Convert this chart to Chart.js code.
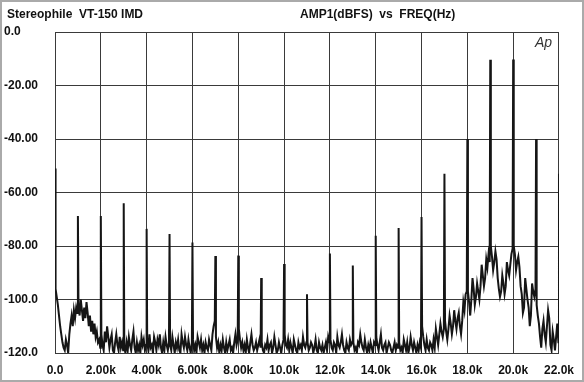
<!DOCTYPE html>
<html>
<head>
<meta charset="utf-8">
<script src="https://cdn.jsdelivr.net/npm/chart.js@4/dist/chart.umd.min.js"></script>
<style>
  html, body { margin: 0; padding: 0; background: #fff; }
  #wrap { width: 584px; height: 382px; }
</style>
</head>
<body>
<div id="wrap"><canvas id="imd" width="584" height="382"></canvas></div>
<script>
// intermod products at every 1 kHz (19+20 kHz twin-tone), dBFS
const toneFreqs = [0, 1000, 2000, 3000, 4000, 5000, 6000, 7000, 8000, 9000, 10000, 11000,
  12000, 13000, 14000, 15000, 16000, 17000, 18000, 19000, 20000, 21000, 22000];
const toneLevels = [-51, -68.8, -68.8, -64, -73.6, -75.5, -78.7, -83.7, -83.6, -92, -86.7, -98,
  -82.8, -87.3, -76.2, -73.3, -69.2, -53, -40, -10.4, -10.3, -40, -53];

// noise floor between the products, one reading per 50 Hz bin (25 Hz, 75 Hz ...)
const floorStartHz = 25;
const floorStepHz = 50;
const noiseFloor = [
  -96, -99, -102, -106, -110, -113, -116, -118, -119, -115, -117, -120, -113, -109, -106, -110, -104, -107, -103, -105,   // 0k
  -102, -106, -100, -104, -108, -103, -107, -101, -105, -110, -106, -112, -108, -113, -109, -114, -112, -116, -115, -118, // 1k
  -113, -117, -119, -112, -116, -110, -114, -118, -115, -113, -119, -120, -116, -113, -117, -119, -114, -118, -116, -119, // 2k
  -118, -120, -116, -119, -114, -117, -119, -115, -112, -118, -120, -116, -119, -117, -120, -114, -117, -115, -119, -117, // 3k
  -116, -119, -113, -118, -117, -120, -114, -116, -119, -115, -117, -113, -118, -120, -116, -119, -114, -117, -119, -116, // 4k
  -117, -119, -114, -117, -120, -116, -118, -115, -119, -120, -113, -116, -118, -114, -117, -119, -115, -118, -120, -116, // 5k
  -115, -119, -117, -120, -114, -116, -118, -115, -119, -117, -120, -116, -118, -119, -115, -117, -119, -113, -110, -108, // 6k
  -114, -118, -116, -120, -117, -119, -115, -118, -120, -116, -119, -117, -115, -119, -118, -120, -116, -113, -117, -115, // 7k
  -111, -115, -118, -116, -119, -117, -120, -115, -118, -120, -116, -113, -117, -119, -118, -116, -119, -117, -115, -118, // 8k
  -116, -119, -120, -117, -118, -115, -119, -117, -116, -120, -118, -114, -117, -120, -119, -116, -118, -120, -117, -115, // 9k
  -113, -117, -118, -115, -119, -116, -118, -120, -115, -117, -119, -120, -116, -118, -117, -119, -114, -117, -118, -116, // 10k
  -116, -119, -118, -116, -117, -120, -118, -115, -119, -120, -116, -118, -119, -117, -120, -118, -116, -119, -114, -116, // 11k
  -115, -118, -119, -116, -117, -120, -114, -117, -118, -116, -113, -117, -119, -120, -116, -118, -119, -115, -117, -116, // 12k
  -116, -119, -118, -120, -116, -117, -113, -116, -118, -119, -115, -118, -120, -117, -119, -116, -118, -120, -116, -117, // 13k
  -114, -117, -119, -116, -113, -118, -119, -117, -116, -120, -118, -116, -117, -119, -120, -118, -116, -119, -117, -118, // 14k
  -116, -119, -118, -120, -115, -117, -119, -116, -120, -118, -114, -117, -119, -116, -118, -120, -117, -119, -116, -118, // 15k
  -110, -114, -117, -119, -115, -118, -119, -116, -117, -119, -115, -118, -111, -114, -117, -113, -109, -112, -114, -111, // 16k
  -108, -112, -115, -111, -106, -109, -113, -110, -104, -108, -111, -107, -105, -110, -113, -108, -101, -104, -98, -97,   // 17k
  -97, -101, -106, -100, -92, -96, -102, -99, -94, -97, -100, -95, -87, -91, -95, -92, -85, -88, -83, -86,                // 18k
  -80, -84, -89, -86, -82, -85, -92, -96, -99, -97, -91, -94, -98, -95, -86, -89, -91, -87, -83, -81,                     // 19k
  -80, -83, -89, -86, -84, -88, -95, -98, -105, -103, -92, -96, -100, -103, -110, -106, -94, -97, -99, -96,               // 20k
  -102, -106, -109, -114, -118, -111, -108, -113, -116, -110, -104, -107, -117, -119, -112, -115, -119, -114, -109, -116  // 21k
];

const xTickLabels = ['0.0', '2.00k', '4.00k', '6.00k', '8.00k', '10.0k', '12.0k',
  '14.0k', '16.0k', '18.0k', '20.0k', '22.0k'];
const yTickLabels = ['-120.0', '-100.0', '-80.00', '-60.00', '-40.00', '-20.00', '0.0'];

const FONT = '"Liberation Sans", Arial, sans-serif';
const GRID = '#3a3a3a';

// merge products and floor bins into one trace, ordered by frequency
const points = [];
for (let i = 0; i < toneFreqs.length; i++) {
  points.push({ x: toneFreqs[i], y: toneLevels[i] });
}
for (let i = 0; i < noiseFloor.length; i++) {
  points.push({ x: floorStartHz + i * floorStepHz, y: noiseFloor[i] });
}
points.sort((a, b) => a.x - b.x);

const header = {
  id: 'header',
  beforeDraw(chart) {
    const ctx = chart.ctx;
    ctx.save();
    ctx.fillStyle = '#fff';
    ctx.fillRect(0, 0, chart.width, chart.height);
    ctx.strokeStyle = '#aaa';
    ctx.lineWidth = 3;
    ctx.strokeRect(0.5, 0.5, chart.width - 1, chart.height - 1);
    ctx.restore();
  },
  afterDraw(chart) {
    const ctx = chart.ctx;
    ctx.save();
    ctx.fillStyle = '#111';
    ctx.textBaseline = 'middle';
    ctx.font = 'bold 12px ' + FONT;
    ctx.fillText('Stereophile  VT-150 IMD', 7, 15);
    ctx.fillText('AMP1(dBFS)  vs  FREQ(Hz)', 300, 15);
    ctx.font = 'italic 14px ' + FONT;
    ctx.fillStyle = '#333';
    ctx.fillText('Ap', 535, 43);
    ctx.restore();
  }
};

new Chart(document.getElementById('imd'), {
  type: 'line',
  data: {
    datasets: [{
      label: 'AMP1',
      data: points,
      borderColor: '#151515',
      borderWidth: 2,
      pointRadius: 0,
      tension: 0,
      fill: false
    }]
  },
  options: {
    responsive: false,
    animation: false,
    layout: { padding: { left: 4, top: 32, right: 21, bottom: 0 } },
    plugins: {
      legend: { display: false },
      tooltip: { enabled: false }
    },
    scales: {
      x: {
        type: 'linear',
        min: 0,
        max: 22000,
        afterFit: (s) => { s.height = 29; },
        afterBuildTicks: (s) => {
          s.ticks = xTickLabels.map((_, i) => ({ value: i * 2000 }));
        },
        ticks: {
          padding: 10,
          maxRotation: 0,
          autoSkip: false,
          color: '#111',
          font: { family: FONT, size: 12, weight: 'bold' },
          callback: (v, i) => xTickLabels[i]
        },
        grid: { color: GRID, lineWidth: 1, drawTicks: false },
        border: { color: GRID, width: 1 }
      },
      y: {
        min: -120,
        max: 0,
        afterFit: (s) => { s.width = 51; },
        afterBuildTicks: (s) => {
          s.ticks = yTickLabels.map((_, i) => ({ value: -120 + i * 20 }));
        },
        ticks: {
          crossAlign: 'far',
          autoSkip: false,
          color: '#111',
          font: { family: FONT, size: 12, weight: 'bold' },
          callback: (v, i) => yTickLabels[i]
        },
        grid: { color: GRID, lineWidth: 1, drawTicks: false },
        border: { color: GRID, width: 1 }
      }
    }
  },
  plugins: [header]
});
</script>
</body>
</html>
